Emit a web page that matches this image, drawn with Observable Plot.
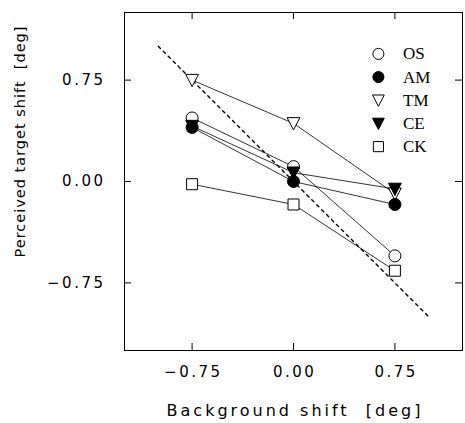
<!DOCTYPE html>
<html>
<head>
<meta charset="utf-8">
<script src="https://cdn.jsdelivr.net/npm/d3@7"></script>
<script src="https://cdn.jsdelivr.net/npm/@observablehq/plot@0.6"></script>
<style>
  html, body { margin: 0; padding: 0; background: white; }
  #chart svg { display: block; }
  .ticklbl text { letter-spacing: 2.5px; }
  .xlabel text { letter-spacing: 3px; }
  .ylabel text { letter-spacing: 1px; }
</style>
</head>
<body>
<div id="chart"></div>
<script>
// Background shift conditions (x) [deg]
const backgroundShift = [-0.75, 0.00, 0.75];
// Perceived target shift per observer [deg]
const OS = [0.47, 0.11, -0.55];
const AM = [0.40, 0.00, -0.17];
const TM = [0.75, 0.43, -0.09];
const CE = [0.41, 0.065, -0.055];
const CK = [-0.02, -0.17, -0.66];
const observers = ["OS", "AM", "TM", "CE", "CK"];
// Axis ticks
const xTicks = [-0.75, 0.00, 0.75];
const yTicks = [-0.75, 0.00, 0.75];
// Veridical (full compensation) reference line
const diagX = [-1.0, 1.0];
const diagY = [1.0, -1.0];

const values = {OS, AM, TM, CE, CK};
const rows = observers.flatMap(name =>
  backgroundShift.map((x, i) => ({name, x, y: values[name][i]})));

const triangleDown = {
  draw(ctx, size) {
    const s = Math.sqrt(size);
    const hw = 0.58 * s, top = -0.52 * s, bot = 0.60 * s;
    ctx.moveTo(-hw, top);
    ctx.lineTo(hw, top);
    ctx.lineTo(0, bot);
    ctx.closePath();
  }
};
const styles = {
  OS: {symbol: "circle", fill: "white", r: 6},
  TM: {symbol: triangleDown, fill: "white", r: 6.2},
  CE: {symbol: triangleDown, fill: "black", r: 6.2},
  AM: {symbol: "circle", fill: "black", r: 6},
  CK: {symbol: "square", fill: "white", r: 6.2}
};
const drawOrder = ["OS", "TM", "CE", "AM", "CK"];

// legend layout (in data units, inside the frame)
const legSymX = 0.628, legTextX = 0.81, legTop = 0.944, legStep = 0.1715;

const W = 465, H = 423, mL = 124, mR = 3, mT = 12, mB = 73;
const innerW = W - mL - mR, innerH = H - mT - mB, tick = 7;
const fmt = d3.format(".2f");

const marks = [
  Plot.frame({stroke: "black", strokeWidth: 1}),
  Plot.tickX(xTicks, {x: d => d, insetTop: innerH - tick, stroke: "black"}),
  Plot.tickX(xTicks, {x: d => d, insetBottom: innerH - tick, stroke: "black"}),
  Plot.tickY(yTicks, {y: d => d, insetRight: innerW - tick, stroke: "black"}),
  Plot.tickY(yTicks, {y: d => d, insetLeft: innerW - tick, stroke: "black"}),
  Plot.axisX(xTicks, {tickSize: 0, tickPadding: 16, tickFormat: fmt, label: null, fontSize: 15, fill: "black", className: "ticklbl", dx: 1.2}),
  Plot.axisY(yTicks, {tickSize: 0, tickPadding: 19, tickFormat: fmt, label: null, fontSize: 15, fill: "black", className: "ticklbl"}),
  Plot.text(["Background shift  [deg]"], {frameAnchor: "bottom", textAnchor: "middle", lineAnchor: "middle", dy: 60, dx: 1.5, fontSize: 16, className: "xlabel", fill: "black"}),
  Plot.text(["Perceived target shift  [deg]"], {frameAnchor: "left", textAnchor: "middle", lineAnchor: "middle", rotate: -90, dx: -104, dy: -40, fontSize: 14.5, className: "ylabel", fill: "black"}),
  Plot.line(diagX.map((x, i) => ({x, y: diagY[i]})), {x: "x", y: "y", stroke: "black", strokeWidth: 1.4, strokeDasharray: "3,4"}),
  Plot.line(rows, {x: "x", y: "y", z: "name", stroke: "black", strokeWidth: 0.8}),
  ...drawOrder.map(name => Plot.dot(rows.filter(d => d.name === name), {
    x: "x", y: "y", symbol: styles[name].symbol, r: styles[name].r,
    fill: styles[name].fill, stroke: "black", strokeWidth: 1
  })),
  ...observers.map((name, i) => Plot.dot([name], {
    x: () => legSymX, y: () => legTop - i * legStep,
    symbol: styles[name].symbol, r: styles[name].r * 0.92,
    fill: styles[name].fill, stroke: "black", strokeWidth: 1
  })),
  Plot.text(observers, {
    x: () => legTextX, y: (d, i) => legTop - i * legStep, text: d => d,
    textAnchor: "start", fontFamily: "Liberation Serif", fontSize: 17, fill: "black"
  })
];

const chart = Plot.plot({
  width: W, height: H,
  marginLeft: mL, marginRight: mR, marginTop: mT, marginBottom: mB,
  x: {domain: [-1.25, 1.25]},
  y: {domain: [-1.25, 1.25]},
  style: {fontFamily: "DejaVu Sans", fontSize: "15px", background: "white", color: "black", overflow: "visible"},
  marks
});
document.getElementById("chart").appendChild(chart);
</script>
</body>
</html>
